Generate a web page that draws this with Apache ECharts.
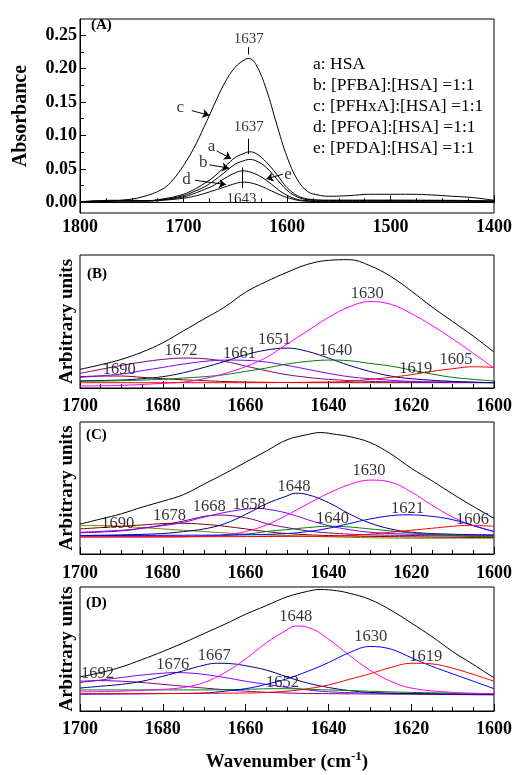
<!DOCTYPE html>
<html>
<head>
<meta charset="utf-8">
<script src="https://cdn.jsdelivr.net/npm/echarts@6/dist/echarts.min.js"></script>
<style>
  html, body { margin: 0; padding: 0; background: #fff; }
  #chart { width: 515px; height: 775px; }
</style>
</head>
<body>
<div id="chart"></div>
<script>
// ---- panel A: absorbance spectra [wavenumber, absorbance]
const specA = [[1800,0.001],[1780,0.002],[1760,0.002],[1740,0.002],[1720,0.005],[1700,0.012],[1690,0.019],[1680,0.028],[1670,0.039],[1660,0.053],[1650,0.067],[1640,0.074],[1637,0.0755],[1630,0.073],[1620,0.060],[1610,0.042],[1600,0.022],[1590,0.010],[1580,0.005],[1560,0.003],[1500,0.003],[1450,0.003],[1400,0.002]];
const specB = [[1800,0.001],[1760,0.002],[1740,0.002],[1720,0.004],[1700,0.010],[1690,0.016],[1680,0.023],[1670,0.033],[1660,0.045],[1650,0.057],[1640,0.063],[1637,0.064],[1630,0.062],[1620,0.052],[1610,0.035],[1600,0.018],[1590,0.008],[1580,0.004],[1560,0.003],[1500,0.003],[1400,0.002]];
const specC = [[1800,0.000],[1780,0.001],[1760,0.003],[1740,0.008],[1720,0.020],[1710,0.034],[1700,0.055],[1690,0.081],[1680,0.113],[1670,0.147],[1660,0.179],[1650,0.202],[1640,0.214],[1637,0.215],[1630,0.206],[1620,0.169],[1610,0.117],[1600,0.068],[1590,0.034],[1580,0.016],[1570,0.011],[1560,0.009],[1540,0.010],[1520,0.012],[1500,0.012],[1480,0.012],[1460,0.011],[1440,0.009],[1420,0.007],[1400,0.003]];
const specD = [[1800,0.000],[1770,0.003],[1750,0.003],[1730,0.002],[1720,0.003],[1700,0.006],[1690,0.009],[1680,0.013],[1670,0.018],[1660,0.023],[1650,0.028],[1643,0.030],[1635,0.029],[1625,0.024],[1615,0.017],[1605,0.010],[1595,0.005],[1585,0.002],[1560,0.001],[1500,0.001],[1400,0.000]];
const specE = [[1800,0.001],[1760,0.002],[1740,0.002],[1720,0.004],[1700,0.008],[1690,0.013],[1680,0.019],[1670,0.026],[1660,0.036],[1650,0.044],[1643,0.047],[1635,0.045],[1625,0.038],[1615,0.027],[1605,0.015],[1595,0.007],[1585,0.003],[1560,0.002],[1500,0.002],[1400,0.001]];
const legendA = ['a: HSA', 'b: [PFBA]:[HSA] =1:1', 'c: [PFHxA]:[HSA] =1:1', 'd: [PFOA]:[HSA] =1:1', 'e: [PFDA]:[HSA] =1:1'];
const yTicksA = [0, 0.05, 0.10, 0.15, 0.20, 0.25];
const yMinorA = [0.025, 0.075, 0.125, 0.175, 0.225];
const peakTextA = [[1637, 0.244, '1637'], [1637, 0.113, '1637'], [1644, 0.005, '1643']];
const letterA = [[1703, 0.141, 'c'], [1673, 0.083, 'a'], [1681, 0.059, 'b'], [1697, 0.034, 'd'], [1599, 0.042, 'e']];
const arrowsA = [[[1692, 0.137], [1675, 0.130]], [[1668, 0.077], [1654, 0.065]], [[1675, 0.056], [1656, 0.051]], [[1689, 0.033], [1659, 0.0265]], [[1604, 0.042], [1620, 0.035]]];
const peakTicksA = [[[1637, 0.221], [1637, 0.232]], [[1637, 0.072], [1637, 0.095]], [[1643, 0.021], [1643, 0.052]]];

// ---- panel B: curve fit, arbitrary units
const bSum = [[1700,14],[1695,17.5],[1690,21.5],[1685,27],[1680,34],[1675,43],[1670,52],[1665,61],[1660,72],[1655,80],[1650,87],[1645,93],[1640,96],[1635,96.5],[1630,92],[1625,84],[1620,73],[1615,61],[1610,50],[1605,39],[1600,27]];
const b1690 = [[1700,8.5],[1695,9],[1690,9],[1685,8],[1680,7],[1670,5.5],[1660,4.5],[1640,4],[1600,4]];
const b1672 = [[1700,11],[1695,14],[1690,17],[1685,19.5],[1680,21.5],[1675,22.5],[1670,22],[1665,20],[1660,16.5],[1655,13],[1650,10],[1645,8],[1640,6.5],[1630,5],[1620,4.5],[1600,4]];
const b1661 = [[1700,8],[1690,10.5],[1685,13],[1680,15.5],[1675,18],[1670,20],[1665,21],[1660,20.8],[1655,19.5],[1650,17],[1645,14],[1640,11],[1635,8.5],[1630,7],[1620,5],[1610,4.5],[1600,4]];
const b1651 = [[1700,5.5],[1690,6],[1685,7],[1680,8.5],[1675,11.5],[1670,15.5],[1665,20],[1660,25],[1655,28.5],[1650,30],[1645,27.5],[1640,22.5],[1635,17],[1630,12.5],[1625,9],[1620,7],[1610,5],[1600,4]];
const b1640 = [[1700,5],[1690,5.5],[1680,6.5],[1675,7.5],[1670,8.5],[1665,10],[1660,12.5],[1655,15],[1650,18],[1645,20],[1640,21],[1635,20.5],[1630,18.5],[1625,16.5],[1620,13.5],[1615,10.5],[1610,8],[1605,6.5],[1600,5.3]];
const b1630 = [[1700,1.5],[1690,2],[1680,3.5],[1675,4.5],[1670,7],[1665,11],[1660,16],[1655,23],[1650,33],[1645,43],[1640,53],[1635,61],[1630,65],[1625,63],[1620,56],[1615,47],[1610,37],[1605,26],[1600,15]];
const b1605 = [[1700,4],[1660,4],[1640,4.5],[1635,5],[1630,6.5],[1625,8],[1620,10],[1615,12.5],[1610,14.5],[1605,16],[1600,15.5]];
const peakTextB = [[1690.5,13.5,'1690'],[1675.6,27.8,'1672'],[1661.5,26,'1661'],[1653,36,'1651'],[1638.2,27.8,'1640'],[1630.6,71,'1630'],[1618.9,14.8,'1619'],[1609.2,21,'1605']];

// ---- panel C
const cSum = [[1700,22.7],[1695,26.5],[1690,30.5],[1685,35.5],[1680,40],[1675,45],[1670,53],[1665,61],[1660,69.5],[1655,78],[1650,86.5],[1645,90.5],[1642,92],[1638,90.5],[1635,89],[1630,84.5],[1625,76],[1620,65],[1615,55.5],[1610,45.5],[1605,36],[1600,27]];
const c1690 = [[1700,21.5],[1695,21.5],[1690,21],[1685,20],[1680,19],[1670,17],[1660,15],[1650,14],[1640,13],[1620,12],[1600,12]];
const c1678 = [[1700,19],[1695,20],[1690,21],[1685,22],[1680,23],[1676,23.3],[1670,22.5],[1665,21],[1660,19],[1655,17],[1650,15.5],[1640,14],[1620,13],[1600,12.5]];
const c1668 = [[1700,16],[1690,17.5],[1685,19.5],[1680,22],[1675,25],[1670,28.5],[1666,29.5],[1662,28.5],[1658,26],[1655,23],[1650,20],[1645,17.5],[1640,16],[1630,14.5],[1600,13.5]];
const c1658 = [[1700,16.5],[1690,18],[1685,19.5],[1680,21.5],[1675,24],[1670,28],[1665,31.5],[1660,34],[1657,34.5],[1655,34],[1650,31],[1645,26],[1640,21.5],[1635,18.5],[1630,16.5],[1620,15],[1600,14]];
const c1648 = [[1700,14],[1690,14.5],[1680,15.5],[1675,17],[1670,19],[1665,23],[1660,30],[1655,38],[1650,44],[1648,46],[1645,45],[1640,39],[1635,30.5],[1630,23.5],[1625,19],[1620,16.5],[1610,15],[1600,14.5]];
const c1640 = [[1700,13],[1680,13],[1670,13.5],[1660,15],[1655,17],[1650,18.5],[1645,20],[1640,21],[1635,20.5],[1630,19],[1625,17.5],[1620,16],[1610,14],[1600,13]];
const c1630 = [[1700,13],[1680,13],[1670,13.5],[1665,14.5],[1660,17],[1655,22],[1650,29.5],[1645,38],[1640,46],[1635,52.5],[1630,56],[1625,54.5],[1620,47],[1615,37],[1610,28],[1605,21.5],[1600,17]];
const c1621 = [[1700,14],[1660,14.5],[1650,15.5],[1645,17],[1640,19.5],[1635,23],[1630,26.5],[1625,29],[1621,29.7],[1615,28.5],[1610,26],[1605,21.5],[1600,17]];
const c1606 = [[1700,13],[1640,13.5],[1630,15],[1625,16.5],[1620,18],[1615,19.5],[1610,21],[1606,21.7],[1600,21]];
const peakTextC = [[1690.9,23.2,'1690'],[1678.4,28.7,'1678'],[1668.8,35.8,'1668'],[1659.1,37.6,'1658'],[1648.3,50.9,'1648'],[1639,27,'1640'],[1630.2,63.5,'1630'],[1620.9,34.5,'1621'],[1605.2,25.7,'1606']];

// ---- panel D
const dSum = [[1700,27.5],[1695,31],[1690,35.5],[1685,41.5],[1680,48],[1675,55],[1670,62.5],[1665,70],[1660,78],[1655,85],[1650,92],[1645,96.5],[1642,98],[1638,97],[1635,95],[1630,90],[1625,81.5],[1620,71],[1615,60],[1610,48],[1605,37.5],[1600,26.7]];
const d1692 = [[1700,24],[1695,24.5],[1690,24],[1685,23],[1680,21.5],[1675,20],[1670,18.5],[1660,16],[1650,14.5],[1640,14],[1620,13.5],[1600,13]];
const d1676 = [[1700,23],[1695,25],[1690,27],[1685,29],[1680,30.5],[1677,31],[1673,30.5],[1670,29.5],[1665,27],[1660,24],[1655,21.5],[1650,19],[1645,17],[1640,15.5],[1630,14.5],[1600,13.5]];
const d1667 = [[1700,18.5],[1695,20],[1690,21.5],[1685,24],[1680,28],[1675,32.5],[1670,37],[1667,38.5],[1663,38],[1660,36.5],[1655,33],[1650,27.5],[1645,22.5],[1640,19],[1635,16.5],[1630,15],[1620,14],[1600,13.5]];
const d1652 = [[1700,17],[1680,17],[1670,17],[1660,17.5],[1652,18],[1640,17],[1620,15],[1600,14]];
const d1648 = [[1700,15.5],[1690,16],[1680,17.5],[1675,19],[1670,23],[1665,31],[1660,42],[1655,55],[1650,65.5],[1648,68.5],[1645,67.5],[1640,58],[1635,45],[1630,33],[1625,24],[1620,18.5],[1610,15],[1600,14]];
const d1630 = [[1700,13.5],[1680,14],[1670,14.5],[1665,16],[1660,18],[1655,21.5],[1650,26],[1645,32],[1640,39],[1635,47],[1630,52],[1625,50],[1620,43],[1615,36],[1610,30],[1605,24],[1600,18]];
const d1619 = [[1700,14],[1660,14.5],[1650,16],[1645,18],[1640,21],[1635,25.5],[1630,30],[1625,35],[1620,38.5],[1615,38],[1610,34.5],[1605,29.5],[1600,24]];
const peakTextD = [[1695.8,30,'1692'],[1677.6,37.5,'1676'],[1667.6,45,'1667'],[1647.9,76.3,'1648'],[1651.1,23,'1652'],[1629.8,60,'1630'],[1616.5,43.7,'1619']];

const SERIF = 'Liberation Serif';
const chart = echarts.init(document.getElementById('chart'));

function curve(name, data, color, idx) {
  return {
    name: name, type: 'line', data: data, xAxisIndex: idx, yAxisIndex: idx,
    smooth: 0.4, showSymbol: false, silent: true,
    lineStyle: { color: color, width: 1 }, itemStyle: { color: color }
  };
}
function texts(data, idx, size) {
  return {
    type: 'scatter', data: data, xAxisIndex: idx, yAxisIndex: idx,
    symbolSize: 0, silent: true, z: 5,
    label: { show: true, position: 'inside', formatter: p => p.data[2],
      color: '#000', fontFamily: SERIF, fontSize: size }
  };
}

const grids = [
  { left: 80, width: 415, top: 19, height: 194 },
  { left: 80, width: 415, top: 255, height: 133 },
  { left: 80, width: 415, top: 422, height: 132 },
  { left: 80, width: 415, top: 587, height: 133 }
].map(g => Object.assign(g, { show: true, borderColor: '#000', borderWidth: 1, backgroundColor: 'transparent' }));

const axisLabelStyle = { color: '#000', fontFamily: SERIF, fontWeight: 'bold', fontSize: 18 };

function xAx(idx, min, max, interval, margin, extra) {
  return Object.assign({
    type: 'value', gridIndex: idx, min: min, max: max, interval: interval, inverse: true,
    axisLine: { show: true, lineStyle: { color: '#000' } },
    axisTick: { show: true, inside: true, length: 7, lineStyle: { color: '#000' } },
    minorTick: { show: true, splitNumber: 4, length: 4, lineStyle: { color: '#000' } },
    splitLine: { show: false },
    axisLabel: Object.assign({ margin: margin, formatter: v => String(v) }, axisLabelStyle)
  }, extra || {});
}
function yArb(idx) {
  return {
    type: 'value', gridIndex: idx, min: 0, max: 100,
    axisLine: { show: false }, axisTick: { show: false }, axisLabel: { show: false },
    splitLine: { show: false },
    name: 'Arbitrary units', nameLocation: 'middle', nameGap: 3,
    nameTextStyle: { color: '#000', fontFamily: SERIF, fontWeight: 'bold', fontSize: 19 }
  };
}

const option = {
  animation: false,
  backgroundColor: '#fff',
  grid: grids,
  legend: {
    data: legendA, orient: 'vertical', left: 303, top: 50, icon: 'none',
    itemWidth: 0, itemHeight: 14, itemGap: 3, selectedMode: false,
    textStyle: { color: '#000', fontFamily: SERIF, fontSize: 17.5, padding: 0 }
  },
  xAxis: [
    xAx(0, 1400, 1800, 100, 5),
    xAx(1, 1600, 1700, 20, 9),
    xAx(2, 1600, 1700, 20, 10),
    xAx(3, 1600, 1700, 20, 9, {
      name: 'Wavenumber (cm{sup|-1})', nameLocation: 'middle', nameGap: 39,
      nameTextStyle: { color: '#000', fontFamily: SERIF, fontWeight: 'bold', fontSize: 19, lineHeight: 24,
        rich: { sup: { fontFamily: SERIF, fontWeight: 'bold', fontSize: 13, verticalAlign: 'top', lineHeight: 24 } } }
    })
  ],
  yAxis: [
    {
      type: 'value', gridIndex: 0, min: -0.016, max: 0.274, position: 'left',
      axisLine: { show: true, lineStyle: { color: '#000' } },
      axisTick: { show: true, inside: true, length: 6, customValues: yTicksA, lineStyle: { color: '#000' } },
      axisLabel: Object.assign({ margin: 3, customValues: yTicksA, formatter: v => v.toFixed(2) }, axisLabelStyle),
      splitLine: { show: false },
      name: 'Absorbance', nameLocation: 'middle', nameGap: 49,
      nameTextStyle: { color: '#000', fontFamily: SERIF, fontWeight: 'bold', fontSize: 20 }
    },
    yArb(1), yArb(2), yArb(3),
    {
      type: 'value', gridIndex: 0, min: -0.016, max: 0.274, position: 'left',
      axisLine: { show: false }, axisLabel: { show: false }, splitLine: { show: false },
      axisTick: { show: true, inside: true, length: 4, customValues: yMinorA, lineStyle: { color: '#000' } }
    }
  ],
  graphic: [
    { type: 'text', left: 91, top: 18, style: { text: '(A)', fontFamily: SERIF, fontWeight: 'bold', fontSize: 15, fill: '#000' } },
    { type: 'text', left: 87, top: 267, style: { text: '(B)', fontFamily: SERIF, fontWeight: 'bold', fontSize: 15, fill: '#000' } },
    { type: 'text', left: 86, top: 428, style: { text: '(C)', fontFamily: SERIF, fontWeight: 'bold', fontSize: 15, fill: '#000' } },
    { type: 'text', left: 86, top: 596, style: { text: '(D)', fontFamily: SERIF, fontWeight: 'bold', fontSize: 15, fill: '#000' } }
  ],
  series: [
    Object.assign(curve(legendA[2], specC, '#000', 0), {
      markLine: {
        silent: true, symbol: ['none', 'none'], label: { show: false },
        lineStyle: { color: '#000', width: 1, type: 'solid' },
        data: peakTicksA.map(s => [{ coord: s[0] }, { coord: s[1] }])
      }
    }),
    Object.assign(curve(legendA[0], specA, '#000', 0), {
      markLine: {
        silent: true, symbol: ['none', 'arrow'], symbolSize: 7, label: { show: false },
        lineStyle: { color: '#000', width: 1, type: 'solid' },
        data: arrowsA.map(s => [{ coord: s[0] }, { coord: s[1] }])
      }
    }),
    curve(legendA[1], specB, '#000', 0),
    curve(legendA[3], specD, '#000', 0),
    curve(legendA[4], specE, '#000', 0),
    texts(peakTextA, 0, 15),
    texts(letterA, 0, 17),

    curve('B1690', b1690, '#800000', 1),
    curve('B1672', b1672, '#800080', 1),
    curve('B1661', b1661, '#8000ff', 1),
    curve('B1651', b1651, '#000080', 1),
    curve('B1640', b1640, '#008000', 1),
    curve('B1630', b1630, '#ff00ff', 1),
    curve('B1605', b1605, '#ff0000', 1),
    curve('Bsum', bSum, '#000', 1),
    texts(peakTextB, 1, 16.5),

    curve('C1690', c1690, '#808000', 2),
    curve('C1678', c1678, '#800000', 2),
    curve('C1668', c1668, '#800080', 2),
    curve('C1658', c1658, '#8000ff', 2),
    curve('C1648', c1648, '#000080', 2),
    curve('C1640', c1640, '#008000', 2),
    curve('C1630', c1630, '#ff00ff', 2),
    curve('C1621', c1621, '#0000ff', 2),
    curve('C1606', c1606, '#ff0000', 2),
    curve('Csum', cSum, '#000', 2),
    texts(peakTextC, 2, 16.5),

    curve('D1692', d1692, '#800080', 3),
    curve('D1676', d1676, '#8000ff', 3),
    curve('D1667', d1667, '#000080', 3),
    curve('D1652', d1652, '#008000', 3),
    curve('D1648', d1648, '#ff00ff', 3),
    curve('D1630', d1630, '#0000ff', 3),
    curve('D1619', d1619, '#ff0000', 3),
    curve('Dsum', dSum, '#000', 3),
    texts(peakTextD, 3, 16.5)
  ]
};
chart.setOption(option);
</script>
</body>
</html>
